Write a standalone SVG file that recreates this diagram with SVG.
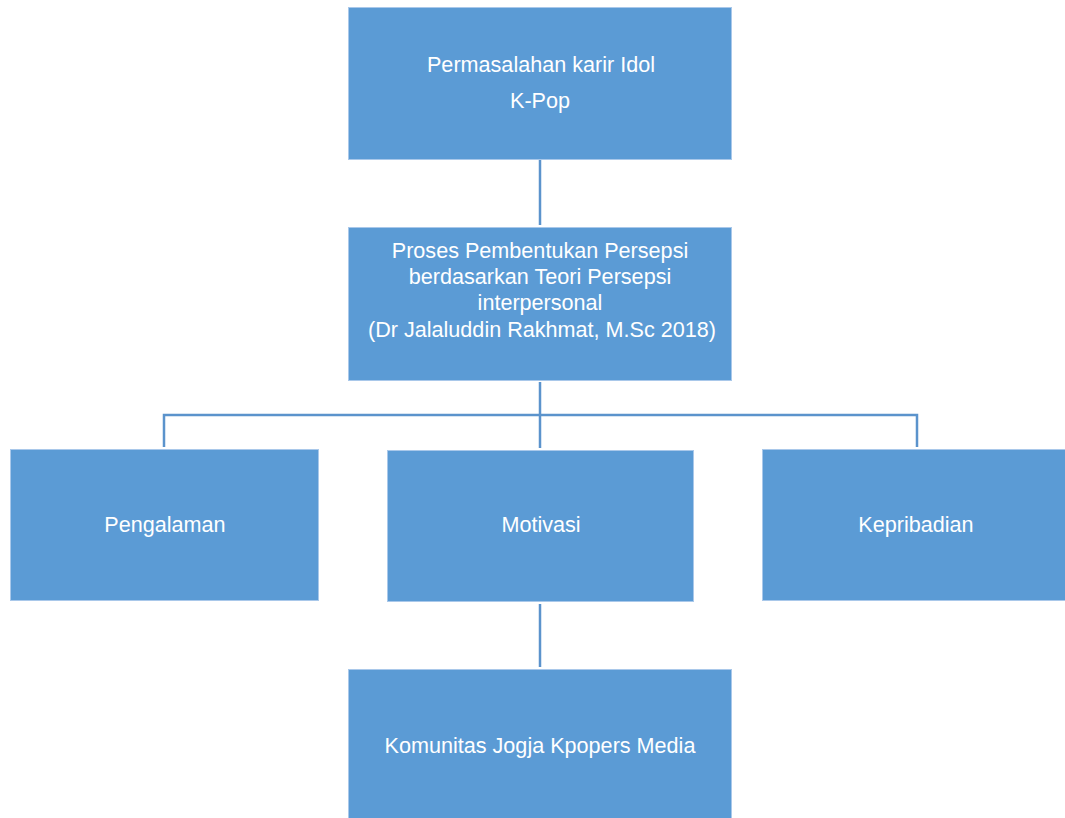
<svg xmlns="http://www.w3.org/2000/svg" width="1065" height="818" viewBox="0 0 1065 818">
<style>
.box{fill:#5B9BD5;stroke:#A9C8EA;stroke-width:1}
.lbl{font-family:"Liberation Sans",Arial,sans-serif;font-size:21.6px;fill:#FFFFFF;text-anchor:middle}
.con{stroke:#5B93CC;stroke-width:2.5;fill:none}
</style>
<rect width="1065" height="818" fill="#FFFFFF"/>
<g id="connectors">
<line class="con" x1="540" y1="160" x2="540" y2="225"/>
<line class="con" x1="540" y1="382" x2="540" y2="448"/>
<polyline class="con" points="164,447 164,415 917,415 917,447"/>
<line class="con" x1="540" y1="604" x2="540" y2="667"/>
</g>
<g id="node-permasalahan">
<rect class="box" x="348.5" y="7.5" width="383" height="152"/>
<text class="lbl" x="541" y="72">Permasalahan karir Idol</text>
<text class="lbl" x="540" y="108">K-Pop</text>
</g>
<g id="node-proses">
<rect class="box" x="348.5" y="227.5" width="383" height="153"/>
<text class="lbl" x="540" y="258">Proses Pembentukan Persepsi</text>
<text class="lbl" x="540" y="284">berdasarkan Teori Persepsi</text>
<text class="lbl" x="540" y="310">interpersonal</text>
<text class="lbl" x="542" y="337">(Dr Jalaluddin Rakhmat, M.Sc 2018)</text>
</g>
<g id="node-pengalaman">
<rect class="box" x="10.5" y="449.5" width="308" height="151"/>
<text class="lbl" x="165" y="532">Pengalaman</text>
</g>
<g id="node-motivasi">
<rect class="box" x="387.5" y="450.5" width="306" height="151"/>
<text class="lbl" x="541" y="532">Motivasi</text>
</g>
<g id="node-kepribadian">
<rect class="box" x="762.5" y="449.5" width="310" height="151"/>
<text class="lbl" x="916" y="532">Kepribadian</text>
</g>
<g id="node-komunitas">
<rect class="box" x="348.5" y="669.5" width="383" height="160"/>
<text class="lbl" x="540" y="753">Komunitas Jogja Kpopers Media</text>
</g>
</svg>
